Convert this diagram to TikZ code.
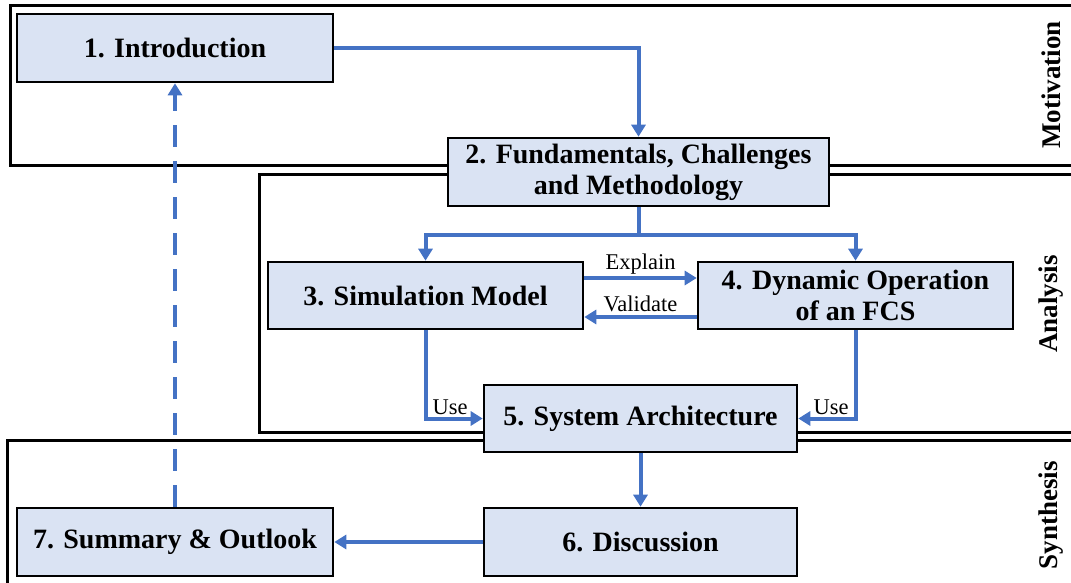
\documentclass[tikz,border=0pt]{standalone}
\usepackage{fontspec}
\setmainfont{Liberation Serif}
\usetikzlibrary{arrows.meta}

\definecolor{boxfill}{HTML}{DAE3F3}
\definecolor{flow}{HTML}{4472C4}

\tikzset{
  chapter/.style={draw=black, line width=2.6pt, fill=boxfill, inner sep=0pt,
    align=center, font=\fontsize{28}{31}\selectfont\bfseries},
  frame/.style={draw=black, line width=3pt},
  flowline/.style={draw=flow, line width=4pt, -{Triangle[length=12pt,width=14pt]}},
  tag/.style={font=\fontsize{22.5}{26}\selectfont, inner sep=1pt},
  part/.style={rotate=90, font=\fontsize{27}{30}\selectfont\bfseries}
}

\begin{document}
\begin{tikzpicture}[x=1pt, y=-1pt]
  \useasboundingbox (0,0) rectangle (1071,583);
  \clip (0,0) rectangle (1071,583);

  % part frames
  \draw[frame] (1090,6) -- (10,6) -- (10,166) -- (1090,166);
  \draw[frame] (1090,174) -- (259,174) -- (259,432) -- (1090,432);
  \draw[frame] (1090,440) -- (7,440) -- (7,600);

  % part labels
  \node[part] (pm) at (1051,85) {Motivation};
  \node[part] (pa) at (1051,304) {Analysis};
  \node[part] (ps) at (1051,515) {Synthesis};

  % chapters
  \node[chapter, minimum width=316pt, minimum height=68pt] (n1) at (175,48) {1. Introduction};
  \node[chapter, minimum width=381pt, minimum height=68pt] (n2) at (638.5,172) {2. Fundamentals, Challenges\\and Methodology};
  \node[chapter, minimum width=315pt, minimum height=67pt] (n3) at (425.5,295.5) {3. Simulation Model};
  \node[chapter, minimum width=315pt, minimum height=67pt] (n4) at (855.5,295.5) {4. Dynamic Operation\\of an FCS};
  \node[chapter, minimum width=313pt, minimum height=67pt] (n5) at (640.5,418.5) {5. System Architecture};
  \node[chapter, minimum width=313pt, minimum height=68pt] (n6) at (640.5,542) {6. Discussion};
  \node[chapter, minimum width=316pt, minimum height=68pt] (n7) at (175,542) {7. Summary \& Outlook};

  % flow between chapters
  \draw[flowline] (n1.east) -| (n2.north);
  \draw[flowline] (n2.south) -- ++(0,28) -| (n3.north);
  \draw[flowline] (n2.south) -- ++(0,28) -| (n4.north);
  \draw[flowline] ([yshift=17.5pt]n3.east) -- node[tag, above=1pt] (lex) {Explain} ([yshift=17.5pt]n4.west);
  \draw[flowline] ([yshift=-21.5pt]n4.west) -- node[tag, above=2pt] (lva) {Validate} ([yshift=-21.5pt]n3.east);
  \draw[flowline] (n3.south) |- node[tag, pos=0.5, anchor=south west, xshift=4pt, yshift=1pt] (lu1) {Use} (n5.west);
  \draw[flowline] (n4.south) |- node[tag, pos=0.5, anchor=south east, xshift=-4pt, yshift=1pt] (lu2) {Use} (n5.east);
  \draw[flowline] (n5.south) -- (n6.north);
  \draw[flowline] (n6.west) -- (n7.east);
  \draw[flowline, dash pattern=on 22pt off 14pt] (n7.north) -- (n1.south);
\end{tikzpicture}
\end{document}
